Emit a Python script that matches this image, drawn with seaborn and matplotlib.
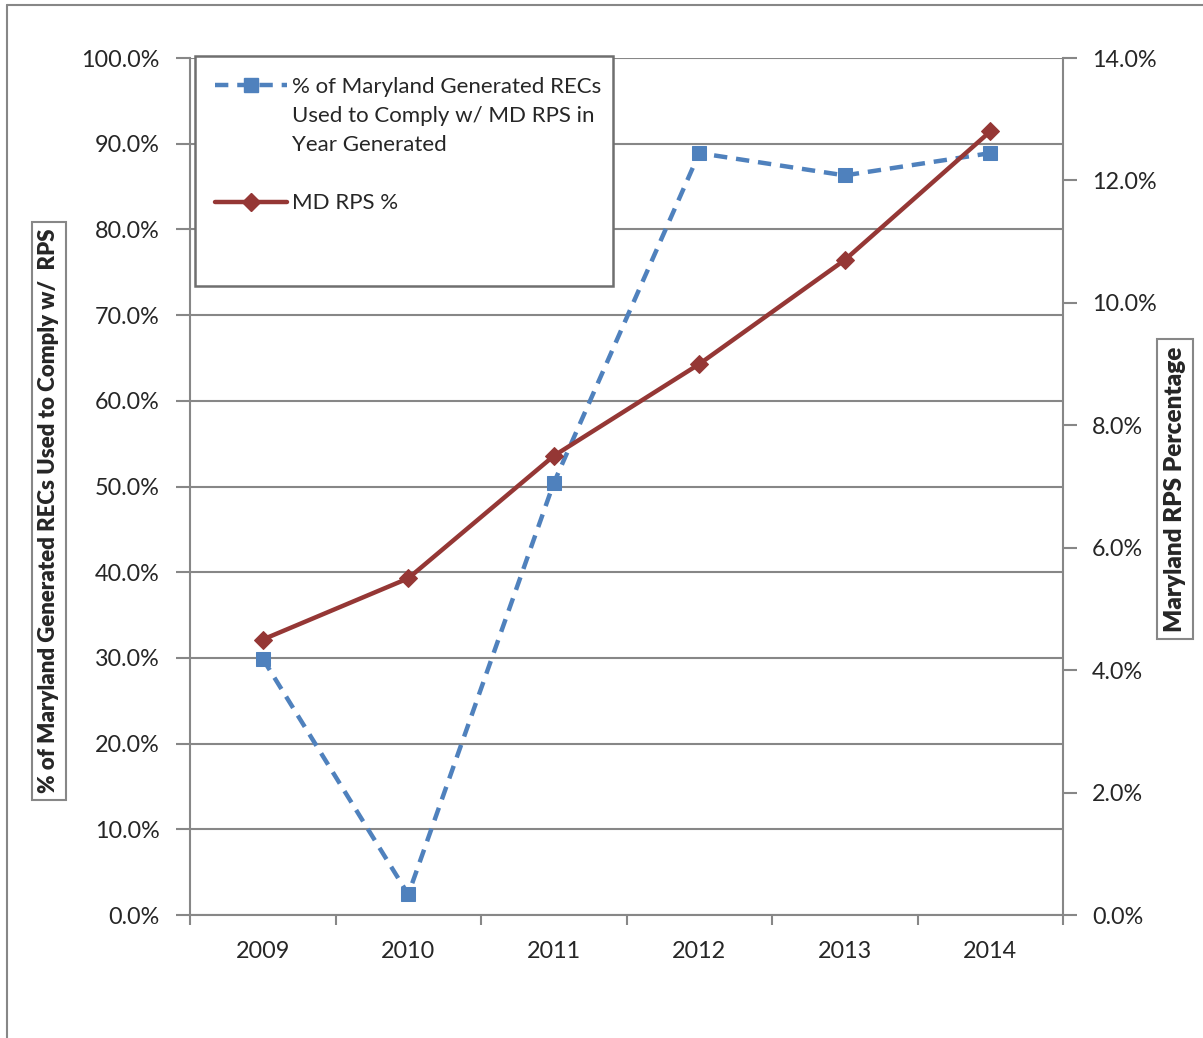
import numpy as np
import pandas as pd
import matplotlib
matplotlib.use("Agg")
import matplotlib.pyplot as plt
import seaborn as sns
from matplotlib.lines import Line2D
from matplotlib.patches import Rectangle
from matplotlib.ticker import FixedLocator, FuncFormatter

# ---- data ----
years = ["2009", "2010", "2011", "2012", "2013", "2014"]
rec_share = [29.9, 2.4, 50.4, 88.9, 86.3, 88.9]      # % of MD generated RECs used in year generated
rps_pct = [4.5, 5.5, 7.5, 9.0, 10.7, 12.8]           # MD RPS %
left_ticks = [0, 10, 20, 30, 40, 50, 60, 70, 80, 90, 100]
right_ticks = [0, 2, 4, 6, 8, 10, 12, 14]
legend_labels = ["% of Maryland Generated RECs", "Used to Comply w/ MD RPS in",
                 "Year Generated", " ", "MD RPS %"]
left_label = "% of Maryland Generated RECs Used to Comply w/  RPS"
right_label = "Maryland RPS Percentage"

# ---- style ----
sns.set_theme(style="white")
plt.rcParams['font.family'] = ['Lato', 'DejaVu Sans']

BLUE = "#4F81BD"
RED = "#953735"
GRAY = "#878787"
FS = 16.8
LFS = 16

W, H = 1203, 1038
fig = plt.figure(figsize=(W / 100, H / 100), dpi=100)


def px(x0, y0, x1, y1):
    return [x0 / W, 1 - y1 / H, (x1 - x0) / W, (y1 - y0) / H]


ax = fig.add_axes(px(190, 58, 1063, 915))
ax2 = ax.twinx()

df = pd.DataFrame({"pos": np.arange(len(years)), "year": years,
                   "rec": rec_share, "rps": rps_pct})

sns.lineplot(data=df, x="pos", y="rec", ax=ax, color=BLUE, lw=3.2,
             marker="s", markersize=10, markerfacecolor=BLUE,
             markeredgecolor=BLUE, zorder=3)
ax.lines[0].set_linestyle((0, (3, 2)))
sns.lineplot(data=df, x="pos", y="rps", ax=ax2, color=RED, lw=3.2,
             marker="D", markersize=9, markerfacecolor=RED,
             markeredgecolor=RED, zorder=3)

ax.set_xlim(-0.5, len(years) - 0.5)
ax.set_ylim(0, 100)
ax2.set_ylim(0, 14)

# x axis: boundary ticks + centered labels
ax.xaxis.set_major_locator(FixedLocator(np.arange(-0.5, len(years), 1.0)))
ax.xaxis.set_minor_locator(FixedLocator(np.arange(len(years))))
ax.set_xticklabels([], minor=False)
ax.set_xticklabels(years, minor=True)
ax.tick_params(axis="x", which="major", length=7, width=1.5, color=GRAY,
               direction="out", bottom=True)
ax.tick_params(axis="x", which="minor", length=0, pad=19, labelsize=FS,
               bottom=True)

ax.yaxis.set_major_locator(FixedLocator(left_ticks))
ax.yaxis.set_major_formatter(FuncFormatter(lambda v, p: f"{v:.1f}%"))
ax.tick_params(axis="y", length=10, width=1.5, color=GRAY, direction="out",
               pad=12, labelsize=FS, left=True)
ax2.yaxis.set_major_locator(FixedLocator(right_ticks))
ax2.yaxis.set_major_formatter(FuncFormatter(lambda v, p: f"{v:.1f}%"))
ax2.tick_params(axis="y", length=10, width=1.5, color=GRAY, direction="out",
                pad=11, labelsize=FS, right=True)

ax.yaxis.grid(True, color=GRAY, lw=1.5)
ax.xaxis.grid(False)
ax.set_axisbelow(True)
ax.set_xlabel("")
ax.set_ylabel("")
ax2.set_ylabel("")

for name, sp in ax.spines.items():
    sp.set_visible(name in ("left", "bottom"))
    sp.set_color(GRAY)
    sp.set_linewidth(1.5)
for name, sp in ax2.spines.items():
    sp.set_visible(name == "right")
    sp.set_color(GRAY)
    sp.set_linewidth(1.5)

# axis titles in boxes
box = dict(boxstyle="square,pad=0.3", fc="white", ec=GRAY, lw=1.5)
fig.text(49 / W, 1 - 511 / H, left_label, rotation=90, ha="center",
         va="center", fontsize=16, fontweight="heavy", bbox=box)
fig.text(1175 / W, 1 - 489 / H, right_label, rotation=90, ha="center",
         va="center", fontsize=17.5, fontweight="heavy", bbox=box)

# legend
fig.add_artist(Rectangle((195 / W, 1 - 286 / H), (613 - 195) / W,
                         (286 - 56) / H, transform=fig.transFigure,
                         fc="white", ec="#6f6f6f", lw=1.8, zorder=4))
h_blue = Line2D([], [], color=BLUE, lw=3.2, ls=(0, (3, 2)), marker="s",
                markersize=10, markerfacecolor=BLUE, markeredgecolor=BLUE)
h_red = Line2D([], [], color=RED, lw=3.2, marker="D", markersize=9,
               markerfacecolor=RED, markeredgecolor=RED)
blank = Line2D([], [], color="none")
fig.legend(handles=[h_blue, blank, blank, blank, h_red], labels=legend_labels,
           loc="upper left", bbox_to_anchor=(215 / W, 1 - 77 / H),
           frameon=False, fontsize=LFS, handlelength=3.25, handletextpad=0.22,
           labelspacing=0.41, borderpad=0, borderaxespad=0)

# outer chart border (top and left visible)
fig.add_artist(Line2D([7 / W, 1], [1 - 5 / H, 1 - 5 / H], color=GRAY, lw=1.5,
                      transform=fig.transFigure))
fig.add_artist(Line2D([7 / W, 7 / W], [1 - 5 / H, 0], color=GRAY, lw=1.5,
                      transform=fig.transFigure))

fig.savefig("out.png", dpi=100)
